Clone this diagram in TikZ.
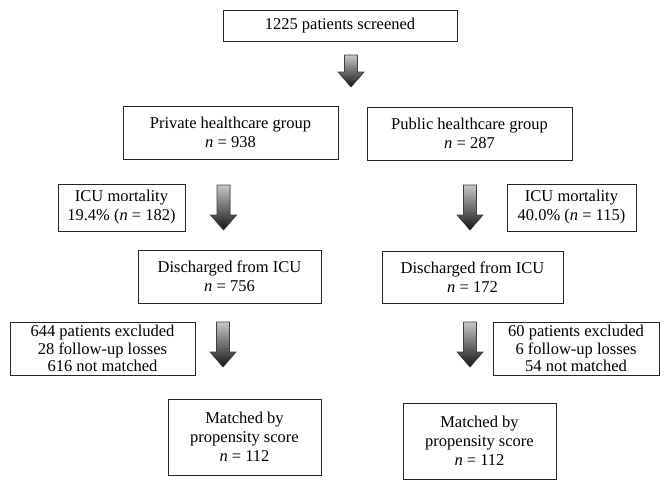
\documentclass[tikz,border=0pt]{standalone}
\usepackage{fontspec}
\setmainfont{Liberation Serif}
\usepackage{tikz}
\usetikzlibrary{positioning,calc}

\tikzset{
    box/.style={draw=black!85, line width=0.9pt, align=center, inner sep=0pt},
    fatarrow/.style={top color=black!22, bottom color=black!92, draw=black!75, line width=0.6pt}
}
% block arrow pointing down: centre x, top y, bottom y
\newcommand{\downblock}[3]{%
    \filldraw[fatarrow] ({#1-6.5},#2) -- ({#1+6.5},#2) -- ({#1+6.5},{#3-15})
        -- ({#1+13},{#3-15}) -- (#1,#3) -- ({#1-13},{#3-15}) -- ({#1-6.5},{#3-15}) -- cycle;}
\newcommand{\nn}{\textit{n}}

\begin{document}
\begin{tikzpicture}[x=1pt, y=-1pt, font=\fontsize{16.5}{19}\selectfont]
    \useasboundingbox (0,0) rectangle (670,490);

    % top
    \node[box, minimum width=234, minimum height=31] (screen) at (340,25.5) {1225 patients screened};
    \downblock{351}{55}{87}

    % groups
    \node[box, minimum width=215, minimum height=53] (private) at (230.5,132.5) {Private healthcare group\\ \nn{} = 938};
    \node[box, minimum width=205, minimum height=53] (public) at (469.5,133.5) {Public healthcare group\\ \nn{} = 287};

    % ICU mortality
    \node[box, minimum width=127, minimum height=47] (icuL) at (121.5,207.5) {ICU mortality\\ 19.4\% (\nn{} = 182)};
    \node[box, minimum width=129, minimum height=47] (icuR) at (571.5,207.5) {ICU mortality\\ 40.0\% (\nn{} = 115)};
    \downblock{223.5}{185}{230}
    \downblock{470}{185}{230}

    % discharged
    \node[box, minimum width=183, minimum height=53] (disL) at (229.5,276.5) {Discharged from ICU\\ \nn{} = 756};
    \node[box, minimum width=181, minimum height=52] (disR) at (472.5,277) {Discharged from ICU\\ \nn{} = 172};

    % exclusions
    \node[box, minimum width=185, minimum height=53, font=\fontsize{16.5}{17.5}\selectfont] (excL) at (102.5,348.5)
        {644 patients excluded\\ 28 follow-up losses\\ 616 not matched};
    \node[box, minimum width=166, minimum height=53, font=\fontsize{16.5}{17.5}\selectfont] (excR) at (576,348.5)
        {60 patients excluded\\ 6 follow-up losses\\ 54 not matched};
    \downblock{223}{322}{367}
    \downblock{470}{322}{367}

    % matched
    \node[box, minimum width=153, minimum height=76] (matL) at (244.5,437) {Matched by\\ propensity score\\ \nn{} = 112};
    \node[box, minimum width=153, minimum height=76] (matR) at (479.5,441) {Matched by\\ propensity score\\ \nn{} = 112};

\end{tikzpicture}
\end{document}
